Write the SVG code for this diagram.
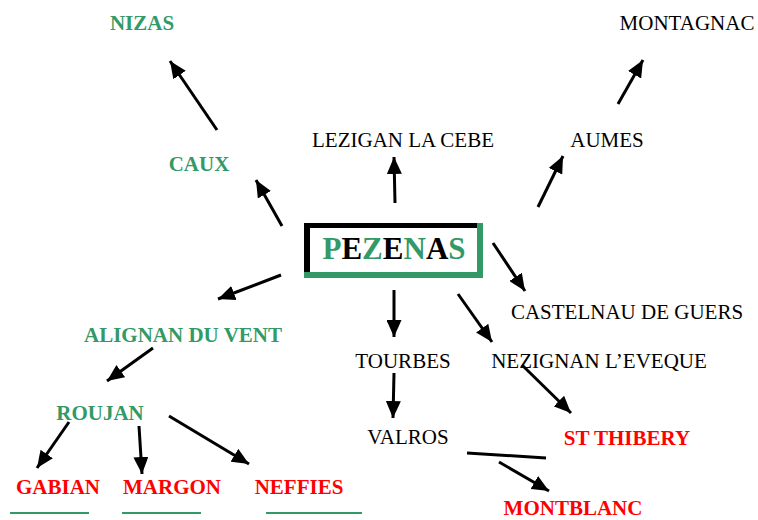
<svg xmlns="http://www.w3.org/2000/svg" width="758" height="520" viewBox="0 0 758 520">
<style>
text{font-family:"Liberation Serif","Times New Roman",serif;font-size:21px;text-anchor:middle}
.g{fill:#339966;font-weight:bold}
.r{fill:#ff0000;font-weight:bold}
.k{fill:#000}
.c line{stroke:#000;stroke-width:3}
.c .a{marker-end:url(#ah)}
.u{stroke:#339966;stroke-width:2}
</style>
<defs>
<marker id="ah" markerUnits="userSpaceOnUse" viewBox="0 0 17 15" markerWidth="17" markerHeight="15" refX="17" refY="7.5" orient="auto">
<path d="M0,0 L17,7.5 L0,15 z" fill="#000"/>
</marker>
</defs>
<rect width="758" height="520" fill="#fff"/>
<g class="c" id="connectors">
<line class="a" x1="217" y1="130" x2="170" y2="61"/>
<line class="a" x1="282" y1="226" x2="256" y2="180"/>
<line class="a" x1="395" y1="203" x2="394" y2="157"/>
<line class="a" x1="538" y1="207" x2="563" y2="156"/>
<line class="a" x1="618" y1="104" x2="643" y2="60"/>
<line class="a" x1="493" y1="243" x2="525" y2="291"/>
<line class="a" x1="394" y1="290" x2="394" y2="337"/>
<line class="a" x1="458" y1="294" x2="492" y2="342"/>
<line class="a" x1="394" y1="373" x2="393" y2="418"/>
<line class="a" x1="522" y1="365" x2="571" y2="413"/>
<line x1="467" y1="453" x2="546" y2="458"/>
<line class="a" x1="499" y1="462" x2="549" y2="491"/>
<line class="a" x1="281" y1="275" x2="218" y2="299"/>
<line class="a" x1="153" y1="348" x2="107" y2="381"/>
<line class="a" x1="69" y1="422" x2="37" y2="468"/>
<line class="a" x1="139" y1="426" x2="142" y2="474"/>
<line class="a" x1="169" y1="416" x2="249" y2="464"/>
</g>
<g id="pezenas">
<rect x="304" y="223" width="173" height="5" fill="#000"/>
<rect x="304" y="223" width="6" height="49" fill="#000"/>
<rect x="477" y="223" width="6" height="55" fill="#339966"/>
<rect x="304" y="272" width="179" height="6" fill="#339966"/>
<text x="394" y="259" style="font-size:31px;font-weight:bold"><tspan fill="#339966">P</tspan><tspan fill="#000">E</tspan><tspan fill="#339966">Z</tspan><tspan fill="#000">E</tspan><tspan fill="#339966">N</tspan><tspan fill="#000">A</tspan><tspan fill="#339966">S</tspan></text>
</g>
<g id="nizas"><text class="g" x="142" y="30">NIZAS</text></g>
<g id="montagnac"><text class="k" x="687" y="30">MONTAGNAC</text></g>
<g id="caux"><text class="g" x="199" y="171">CAUX</text></g>
<g id="lezigan"><text class="k" x="403" y="147">LEZIGAN LA CEBE</text></g>
<g id="aumes"><text class="k" x="607" y="147">AUMES</text></g>
<g id="castelnau"><text class="k" x="627" y="319">CASTELNAU DE GUERS</text></g>
<g id="tourbes"><text class="k" x="403" y="368">TOURBES</text></g>
<g id="nezignan"><text class="k" x="599" y="368">NEZIGNAN L’EVEQUE</text></g>
<g id="valros"><text class="k" x="408" y="444">VALROS</text></g>
<g id="stthibery"><text class="r" x="627" y="445">ST THIBERY</text></g>
<g id="montblanc"><text class="r" x="573" y="515">MONTBLANC</text></g>
<g id="alignan"><text class="g" x="183" y="342">ALIGNAN DU VENT</text></g>
<g id="roujan"><text class="g" x="100" y="420">ROUJAN</text></g>
<g id="gabian"><text class="r" x="58" y="494">GABIAN</text><line class="u" x1="10" y1="513" x2="89" y2="513"/></g>
<g id="margon"><text class="r" x="172" y="494">MARGON</text><line class="u" x1="122" y1="513" x2="201" y2="513"/></g>
<g id="neffies"><text class="r" x="299" y="494">NEFFIES</text><line class="u" x1="266" y1="513" x2="362" y2="513"/></g>
</svg>
